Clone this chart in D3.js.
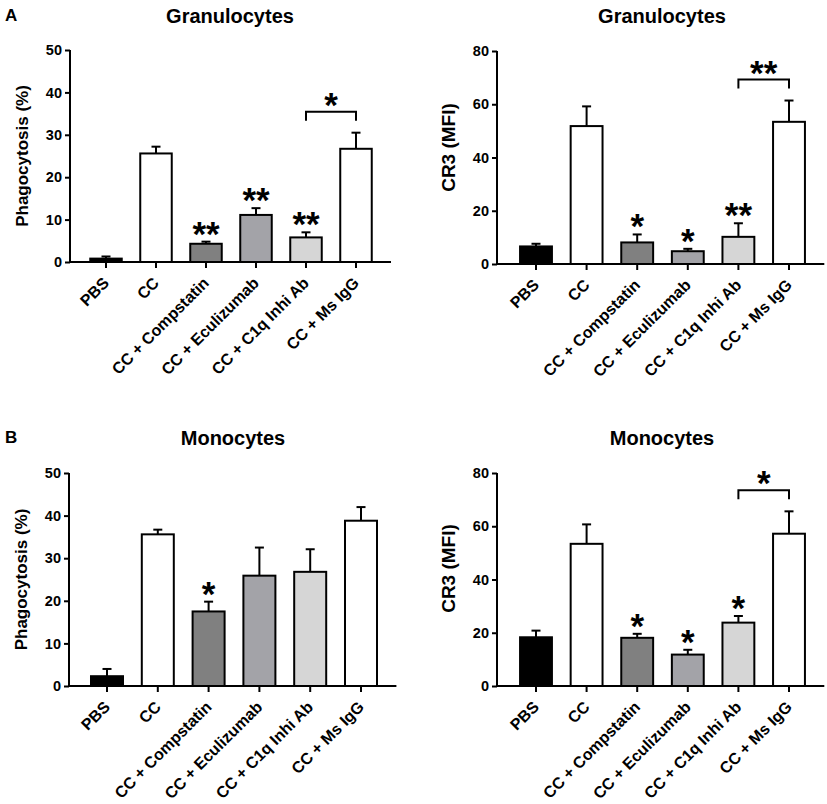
<!DOCTYPE html>
<html>
<head>
<meta charset="utf-8">
<script src="https://cdn.jsdelivr.net/npm/d3@7"></script>
<style>
  body { margin: 0; background: #fff; }
  svg { display: block; font-family: "Liberation Sans", Arial, sans-serif; font-weight: bold; }
</style>
</head>
<body>
<div id="viz"></div>
<script>
const groups = ["PBS", "CC", "CC + Compstatin", "CC + Eculizumab", "CC + C1q Inhi Ab", "CC + Ms IgG"];
const fills = ["#000000", "#ffffff", "#808080", "#a3a3a8", "#d6d6d6", "#ffffff"];

// Granulocytes, phagocytosis (%)
const granPhagoMean = [0.8, 25.6, 4.3, 11.1, 5.8, 26.7];
const granPhagoErr = [0.5, 1.6, 0.5, 1.6, 1.2, 3.8];
const granPhagoStars = ["", "", "**", "**", "**", ""];

// Granulocytes, CR3 (MFI)
const granCr3Mean = [6.6, 51.8, 8.1, 4.8, 10.2, 53.4];
const granCr3Err = [1.0, 7.4, 3.0, 0.9, 5.1, 8.0];
const granCr3Stars = ["", "", "*", "*", "**", ""];

// Monocytes, phagocytosis (%)
const monoPhagoMean = [2.3, 35.6, 17.5, 25.9, 26.8, 38.8];
const monoPhagoErr = [1.7, 1.1, 2.3, 6.6, 5.3, 3.2];
const monoPhagoStars = ["", "", "*", "", "", ""];

// Monocytes, CR3 (MFI)
const monoCr3Mean = [18.3, 53.4, 18.1, 11.8, 23.8, 57.2];
const monoCr3Err = [2.5, 7.3, 1.5, 1.8, 2.5, 8.4];
const monoCr3Stars = ["", "", "*", "*", "*", ""];

const phagoTicks = [0, 10, 20, 30, 40, 50];
const cr3Ticks = [0, 20, 40, 60, 80];

const svg = d3.select("#viz").append("svg")
  .attr("width", 827)
  .attr("height", 804);

const panels = [
  { title: "Granulocytes", letter: "A", ylabel: "Phagocytosis (%)", labelSize: 17,
    mean: granPhagoMean, err: granPhagoErr, stars: granPhagoStars, bracket: "*",
    ticks: phagoTicks, axisX: 70, c0: 106, step: 50, y0: 262, yTop: 50, titleX: 230, titleY: 23 },
  { title: "Granulocytes", ylabel: "CR3 (MFI)", labelSize: 19, labelShift: -10,
    mean: granCr3Mean, err: granCr3Err, stars: granCr3Stars, bracket: "**",
    ticks: cr3Ticks, axisX: 497, c0: 536, step: 50.6, y0: 264, yTop: 51, titleX: 662, titleY: 23 },
  { title: "Monocytes", letter: "B", ylabel: "Phagocytosis (%)", labelSize: 17,
    mean: monoPhagoMean, err: monoPhagoErr, stars: monoPhagoStars, bracket: null,
    ticks: phagoTicks, axisX: 69, c0: 107, step: 50.8, y0: 686, yTop: 473, titleX: 233, titleY: 445 },
  { title: "Monocytes", ylabel: "CR3 (MFI)", labelSize: 19, labelShift: -11,
    mean: monoCr3Mean, err: monoCr3Err, stars: monoCr3Stars, bracket: "*",
    ticks: cr3Ticks, axisX: 497, c0: 536, step: 50.6, y0: 686, yTop: 473, titleX: 662, titleY: 445 }
];

panels.forEach(p => drawPanel(p));

function drawPanel(p) {
  const g = svg.append("g");
  const left = p.c0 - p.step / 2;
  const right = left + p.step * groups.length;

  const x = d3.scaleBand()
    .domain(groups)
    .range([left, right])
    .paddingInner(0.37)
    .paddingOuter(0.185);

  const y = d3.scaleLinear()
    .domain([0, d3.max(p.ticks)])
    .range([p.y0, p.yTop]);

  const data = groups.map((name, i) => ({
    name, mean: p.mean[i], err: p.err[i], star: p.stars[i], fill: fills[i]
  }));

  // title and panel letter
  g.append("text")
    .attr("x", p.titleX)
    .attr("y", p.titleY)
    .attr("text-anchor", "middle")
    .style("font-size", "20px")
    .text(p.title);

  if (p.letter) {
    g.append("text")
      .attr("x", 5)
      .attr("y", p.titleY - 2)
      .style("font-size", "17px")
      .text(p.letter);
  }

  // y axis
  const yAxis = d3.axisLeft(y)
    .tickValues(p.ticks)
    .tickSize(5)
    .tickPadding(3)
    .tickSizeOuter(0);

  const ya = g.append("g")
    .attr("transform", `translate(${p.axisX},0)`)
    .call(yAxis);
  ya.select(".domain").attr("stroke-width", 2).attr("d", `M0,${p.y0 + 1}V${p.yTop}`);
  ya.selectAll(".tick line").attr("stroke-width", 2);
  ya.selectAll(".tick text")
    .attr("fill", "#000")
    .style("font-size", "14.5px")
    .style("font-family", "'Liberation Sans', Arial, sans-serif")
    .style("font-weight", "bold");

  g.append("text")
    .attr("transform", `translate(${p.axisX - 42},${(p.y0 + p.yTop) / 2 + (p.labelShift || 0)}) rotate(-90)`)
    .attr("text-anchor", "middle")
    .style("font-size", p.labelSize + "px")
    .text(p.ylabel);

  // bars
  g.append("g")
    .selectAll("rect")
    .data(data)
    .enter().append("rect")
    .attr("x", d => x(d.name))
    .attr("y", d => y(d.mean))
    .attr("width", x.bandwidth())
    .attr("height", d => y(0) - y(d.mean))
    .attr("fill", d => d.fill)
    .attr("stroke", "#000")
    .attr("stroke-width", 2);

  // error bars (upper only)
  const cx = d => x(d.name) + x.bandwidth() / 2;
  const eb = g.append("g")
    .attr("stroke", "#000")
    .attr("stroke-width", 2);

  eb.selectAll(".stem")
    .data(data)
    .enter().append("line")
    .attr("x1", cx)
    .attr("x2", cx)
    .attr("y1", d => y(d.mean))
    .attr("y2", d => y(d.mean + d.err));

  eb.selectAll(".cap")
    .data(data)
    .enter().append("line")
    .attr("x1", d => cx(d) - 4.5)
    .attr("x2", d => cx(d) + 4.5)
    .attr("y1", d => y(d.mean + d.err))
    .attr("y2", d => y(d.mean + d.err));

  // x axis
  const xAxis = d3.axisBottom(x)
    .tickSize(6)
    .tickSizeOuter(0)
    .tickFormat("");

  const xa = g.append("g")
    .attr("transform", `translate(0,${p.y0})`)
    .call(xAxis);
  xa.select(".domain").attr("stroke-width", 2).attr("d", `M${p.axisX - 1},0H${right + 10}`);
  xa.selectAll(".tick line").attr("stroke-width", 2);

  g.append("g")
    .selectAll("text")
    .data(data)
    .enter().append("text")
    .attr("transform", d => `translate(${cx(d) + 4},${p.y0 + 22}) rotate(-45)`)
    .attr("text-anchor", "end")
    .style("font-size", "16px")
    .text(d => d.name);

  // significance stars
  g.append("g")
    .selectAll("text")
    .data(data.filter(d => d.star))
    .enter().append("text")
    .attr("x", cx)
    .attr("y", d => y(d.mean + d.err) - 15 + 19)
    .attr("text-anchor", "middle")
    .style("font-size", "35px")
    .text(d => d.star);

  // bracket between C1q Inhi Ab and Ms IgG
  if (p.bracket) {
    const a = data[4], b = data[5];
    const topY = Math.min(y(a.mean + a.err), y(b.mean + b.err)) - 21;
    g.append("path")
      .attr("d", `M${cx(a)},${topY + 9}V${topY}H${cx(b)}V${topY + 9}`)
      .attr("fill", "none")
      .attr("stroke", "#000")
      .attr("stroke-width", 2);
    g.append("text")
      .attr("x", (cx(a) + cx(b)) / 2)
      .attr("y", topY - 14 + 19)
      .attr("text-anchor", "middle")
      .style("font-size", "35px")
      .text(p.bracket);
  }
}
</script>
</body>
</html>
